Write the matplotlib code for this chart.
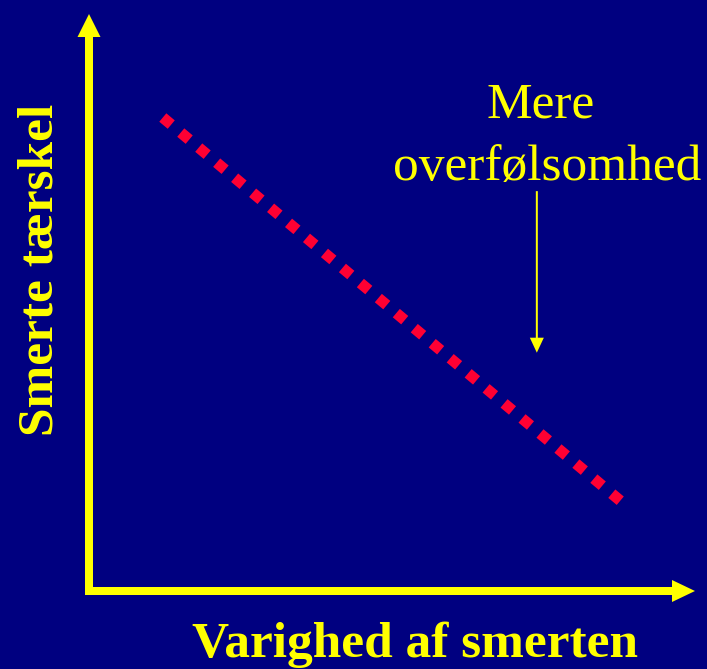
import matplotlib
matplotlib.use("Agg")
import matplotlib.pyplot as plt
import matplotlib.patches as mpatches

# ---- data (relative units) ----
duration = [1.218, 8.782]        # Varighed af smerten
threshold = [8.206, 1.551]       # Smerte tærskel
annot_x = [7.39]
annot_y_from = [6.93]
annot_y_to = [4.13]
x_label = "Varighed af smerten"
y_label = "Smerte tærskel"
annot_lines = ["Mere", "overfølsomhed"]

BG = "#000080"
YEL = "#FFFF00"
RED = "#FF0033"

W, H = 707, 669
fig = plt.figure(figsize=(W / 100, H / 100), dpi=100, facecolor=BG)

# plot area: origin at (89, 591) px, top-right at (695, 14) px
x0, y0, x1, y1 = 89, 591, 695, 14
ax = fig.add_axes([x0 / W, (H - y0) / H, (x1 - x0) / W, (y0 - y1) / H])
ax.set_xlim(0, 10)
ax.set_ylim(0, 10)
ax.axis("off")
ax.set_facecolor(BG)

pxx = 10 / (x1 - x0)   # data units per pixel in x
pxy = 10 / (y0 - y1)   # data units per pixel in y

# axes arrows
ax.add_patch(mpatches.FancyArrow(0, -4 * pxy, 0, 10 + 4 * pxy, width=8 * pxx,
                                 head_width=23 * pxx, head_length=23 * pxy,
                                 length_includes_head=True, color=YEL, lw=0,
                                 clip_on=False))
ax.add_patch(mpatches.FancyArrow(-4 * pxx, 0, 10 + 4 * pxx, 0, width=8 * pxy,
                                 head_width=22 * pxy, head_length=23 * pxx,
                                 length_includes_head=True, color=YEL, lw=0,
                                 clip_on=False))

# dotted red line
ax.plot(duration, threshold, color=RED, lw=11 * 0.72, linestyle=(0, (1, 1.13)),
        dash_capstyle="butt", clip_on=False)

# annotation arrow
ax.add_patch(mpatches.FancyArrow(annot_x[0], annot_y_from[0], 0,
                                 annot_y_to[0] - annot_y_from[0],
                                 width=2 * pxx, head_width=14 * pxx,
                                 head_length=15 * pxy, length_includes_head=True,
                                 color=YEL, lw=0, clip_on=False))

serif = ["Liberation Serif", "DejaVu Serif"]
fig.text(541 / W, 1 - 117 / H, annot_lines[0], color=YEL, fontsize=37,
         family=serif, ha="center", va="baseline")
fig.text(547.5 / W, 1 - 180 / H, annot_lines[1], color=YEL, fontsize=37,
         family=serif, ha="center", va="baseline")

fig.text(414.5 / W, 1 - 657 / H, x_label, color=YEL, fontsize=37,
         family=serif, fontweight="bold", ha="center", va="baseline")
fig.text(53 / W, 1 - 270 / H, y_label, color=YEL, fontsize=37,
         family=serif, fontweight="bold", ha="center", va="baseline",
         rotation=90, rotation_mode="anchor")

fig.savefig("out.png", dpi=100, facecolor=BG)
